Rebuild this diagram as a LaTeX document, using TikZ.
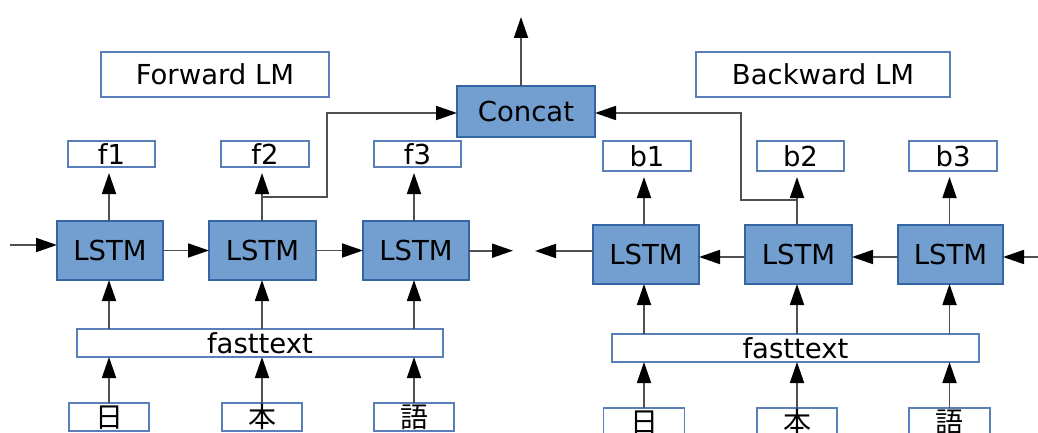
\documentclass[tikz,border=0pt]{standalone}
\usepackage{fontspec}
\setmainfont{DejaVu Sans}
\newfontfamily\cjk{Noto Sans CJK JP}
\usetikzlibrary{arrows.meta}
\definecolor{lblue}{HTML}{729FCF}
\definecolor{dblue}{HTML}{3465A4}
\definecolor{wborder}{HTML}{5A7FB8}
\definecolor{lin}{HTML}{505050}
\tikzset{
  base/.style={inner sep=0pt, outer sep=0pt, font=\fontsize{27.5}{32}\selectfont, text height=20pt, text depth=0pt},
  lstm/.style={base, draw=dblue, fill=lblue, line width=1.5pt, minimum height=59pt},
  wbox/.style={base, draw=wborder, fill=white, line width=1.5pt},
  cbox/.style={wbox, font=\fontsize{28}{32}\selectfont\cjk, minimum width=80pt, minimum height=28pt, text height=21pt},
  conn/.style={draw=lin, line width=1.8pt, -{Triangle[length=21pt,width=14pt,fill=black,color=black]}},
}
\begin{document}
\begin{tikzpicture}[x=1pt,y=-1pt]
\useasboundingbox (0,0) rectangle (1038,433);
% titles
\node[wbox, minimum width=228pt, minimum height=45pt] (fwd) at (215,74.5) {Forward LM};
\node[wbox, minimum width=254pt, minimum height=45pt] (bwd) at (823,74.5) {Backward LM};
\node[lstm, minimum width=138pt, minimum height=51pt] (concat) at (526,111.5) {Concat};
% left LSTMs
\node[lstm, minimum width=106pt] (l1) at (110,250.5) {LSTM};
\node[lstm, minimum width=107pt] (l2) at (262.5,250.5) {LSTM};
\node[lstm, minimum width=106pt] (l3) at (416,250.5) {LSTM};
% right LSTMs
\node[lstm, minimum width=106pt] (r1) at (646,254.5) {LSTM};
\node[lstm, minimum width=107pt] (r2) at (798.5,254.5) {LSTM};
\node[lstm, minimum width=105pt] (r3) at (950.5,254.5) {LSTM};
% outputs
\node[wbox, minimum width=87pt, minimum height=26pt] (f1) at (111.5,154) {f1};
\node[wbox, minimum width=88pt, minimum height=26pt] (f2) at (265,154) {f2};
\node[wbox, minimum width=87pt, minimum height=26pt] (f3) at (417.5,154) {f3};
\node[wbox, minimum width=88pt, minimum height=30pt] (b1) at (647,156) {b1};
\node[wbox, minimum width=87pt, minimum height=30pt] (b2) at (800.5,156) {b2};
\node[wbox, minimum width=88pt, minimum height=30pt] (b3) at (953,156) {b3};
% fasttext
\node[wbox, minimum width=366pt, minimum height=28pt] (ftl) at (260,343) {fasttext};
\node[wbox, minimum width=367pt, minimum height=28pt] (ftr) at (795.5,348) {fasttext};
% chars
\node[cbox] (cl1) at (109,417) {日};
\node[cbox] (cl2) at (262,417) {本};
\node[cbox] (cl3) at (414,417) {語};
\node[cbox, minimum width=81pt] (cr1) at (644,422) {日};
\node[cbox] (cr2) at (797,422) {本};
\node[cbox, minimum width=81pt] (cr3) at (949.5,422) {語};
% coordinates
\coordinate (inl) at (10,245);
\coordinate (outl) at (513,250.7);
\coordinate (inr) at (1038,257);
\coordinate (outr) at (535,251);
\coordinate (fj) at (327,197);
\coordinate (bj) at (741,200);
\coordinate (top) at (521,17);
% left vertical connectors
\draw[conn] (cl1.north) -- (cl1.north |- ftl.south);
\draw[conn] (cl2.north) -- (cl2.north |- ftl.south);
\draw[conn] (cl3.north) -- (cl3.north |- ftl.south);
\draw[conn] (ftl.north -| cl1) -- (l1.south -| cl1);
\draw[conn] (ftl.north -| cl2) -- (l2.south -| cl2);
\draw[conn] (ftl.north -| cl3) -- (l3.south -| cl3);
\draw[conn, shorten >=6pt] (l1.north -| cl1) -- (f1.south -| cl1);
\draw[conn, shorten >=6pt] (l2.north -| cl2) -- (f2.south -| cl2);
\draw[conn, shorten >=6pt] (l3.north -| cl3) -- (f3.south -| cl3);
% right vertical connectors
\draw[conn] (cr1.north) -- (cr1.north |- ftr.south);
\draw[conn] (cr2.north) -- (cr2.north |- ftr.south);
\draw[conn] (cr3.north) -- (cr3.north |- ftr.south);
\draw[conn] (ftr.north -| cr1) -- (r1.south -| cr1);
\draw[conn] (ftr.north -| cr2) -- (r2.south -| cr2);
\draw[conn] (ftr.north -| cr3) -- (r3.south -| cr3);
\draw[conn, shorten >=6pt] (r1.north -| cr1) -- (b1.south -| cr1);
\draw[conn, shorten >=6pt] (r2.north -| cr2) -- (b2.south -| cr2);
\draw[conn, shorten >=6pt] (r3.north -| cr3) -- (b3.south -| cr3);
% horizontal left
\draw[conn] (inl) -- (inl -| l1.west);
\draw[conn] (l1.east) -- (l2.west);
\draw[conn] (l2.east) -- (l3.west);
\draw[conn] (l3.east |- outl) -- (outl);
% horizontal right
\draw[conn] (inr) -- (inr -| r3.east);
\draw[conn] (r3.west |- inr) -- (r2.east |- inr);
\draw[conn] (r2.west |- inr) -- (r1.east |- inr);
\draw[conn] (r1.west |- outr) -- (outr);
% to concat
\draw[conn] (cl2 |- fj) -- (fj) |- (concat.west |- 0,113);
\draw[conn] (cr2 |- bj) -- (bj) |- (concat.east |- 0,113);
\draw[conn] (concat.north -| top) -- (top);
\end{tikzpicture}
\end{document}
